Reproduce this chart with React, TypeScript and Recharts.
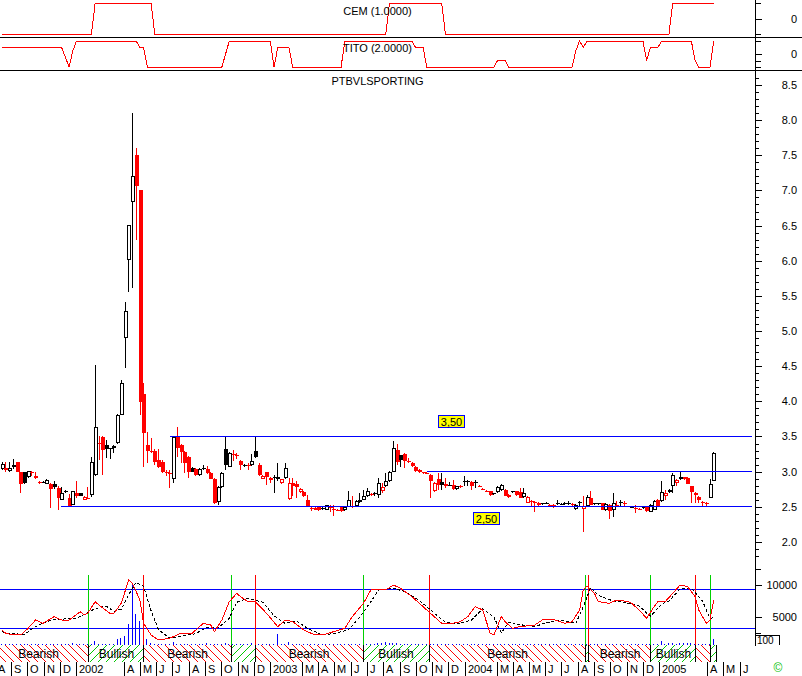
import React from 'react';
import {
  ComposedChart, LineChart, Line, Bar, XAxis, YAxis,
  ReferenceLine, ReferenceArea, ReferenceDot,
} from 'recharts';

// weekly bars; x axis is in days counted from 1 Jan 2002
const FIRST_BAR_DAY = -139;
const X_DOMAIN: [number, number] = [-142.8, 1275.6];
const W = 802;
const AXIS_W = 47;

const opens = [
  3.04, 3.05, 3.01, 3.09, 3.14, 2.99, 2.99, 2.92, 2.99, 2.91, 2.85, 2.85,
  2.82, 2.82, 2.82, 2.77, 2.60, 2.71, 2.63, 2.53, 2.70, 2.69, 2.60, 2.63,
  2.67, 2.95, 3.41, 3.49, 3.38, 3.32, 3.34, 3.41, 3.81, 4.90, 6.01, 6.84,
  7.50, 7.00, 4.11, 3.38, 3.30, 3.29, 3.17, 3.14, 2.99, 2.98, 2.90, 3.49,
  3.38, 3.28, 3.21, 3.05, 3.04, 2.95, 3.04, 3.04, 2.98, 2.90, 2.57, 2.78,
  3.32, 3.07, 3.25, 3.23, 3.15, 3.09, 3.10, 3.09, 3.30, 3.10, 2.90, 3.00,
  2.88, 2.91, 2.89, 2.84, 2.91, 2.61, 2.84, 2.83, 2.71, 2.71, 2.60, 2.48,
  2.48, 2.49, 2.47, 2.46, 2.49, 2.47, 2.46, 2.49, 2.45, 2.50, 2.50, 2.51,
  2.57, 2.60, 2.65, 2.68, 2.70, 2.67, 2.73, 2.79, 2.86, 3.00, 3.31, 3.23,
  3.25, 3.15, 3.12, 3.07, 3.03, 2.99, 2.98, 2.95, 2.72, 2.89, 2.85, 2.83,
  2.81, 2.81, 2.75, 2.80, 2.85, 2.86, 2.85, 2.84, 2.80, 2.76, 2.73, 2.72,
  2.68, 2.71, 2.74, 2.74, 2.67, 2.71, 2.72, 2.71, 2.64, 2.56, 2.58, 2.57,
  2.56, 2.54, 2.55, 2.53, 2.53, 2.55, 2.53, 2.56, 2.55, 2.54, 2.47, 2.55,
  2.47, 2.51, 2.63, 2.55, 2.55, 2.55, 2.45, 2.53, 2.46, 2.53, 2.57, 2.55,
  2.51, 2.50, 2.48, 2.47, 2.48, 2.49, 2.43, 2.46, 2.60, 2.58, 2.65, 2.71,
  2.79, 2.84, 2.89, 2.92, 2.91, 2.79, 2.70, 2.64, 2.57, 2.56, 2.63, 2.87,
];
const highs = [
  3.13, 3.14, 3.14, 3.18, 3.14, 3.00, 3.00, 3.01, 3.01, 3.00, 2.86, 2.87,
  2.89, 2.84, 2.86, 2.80, 2.78, 2.74, 2.68, 2.73, 2.87, 2.70, 2.66, 2.78,
  3.21, 4.52, 3.50, 3.50, 3.45, 3.34, 3.38, 3.82, 4.30, 5.41, 6.51, 8.10,
  7.60, 7.00, 4.26, 3.56, 3.48, 3.32, 3.32, 3.16, 3.03, 3.03, 3.50, 3.64,
  3.40, 3.30, 3.22, 3.06, 3.05, 3.05, 3.09, 3.08, 2.99, 2.91, 2.80, 2.99,
  3.50, 3.28, 3.31, 3.27, 3.16, 3.11, 3.12, 3.25, 3.50, 3.12, 2.95, 3.00,
  2.93, 2.95, 3.12, 2.90, 3.12, 2.91, 2.91, 2.86, 2.77, 2.72, 2.67, 2.50,
  2.50, 2.50, 2.49, 2.53, 2.53, 2.52, 2.47, 2.50, 2.51, 2.72, 2.65, 2.59,
  2.70, 2.74, 2.77, 2.69, 2.71, 2.91, 2.84, 2.98, 3.01, 3.44, 3.40, 3.24,
  3.26, 3.19, 3.13, 3.08, 3.04, 3.00, 2.99, 2.96, 2.85, 2.98, 2.98, 2.91,
  2.85, 2.88, 2.80, 2.81, 2.94, 2.88, 2.86, 2.88, 2.81, 2.77, 2.74, 2.73,
  2.70, 2.79, 2.82, 2.75, 2.68, 2.73, 2.73, 2.77, 2.77, 2.65, 2.60, 2.58,
  2.57, 2.56, 2.57, 2.54, 2.54, 2.59, 2.56, 2.57, 2.58, 2.55, 2.54, 2.58,
  2.65, 2.67, 2.73, 2.56, 2.56, 2.56, 2.55, 2.54, 2.69, 2.58, 2.59, 2.58,
  2.51, 2.51, 2.52, 2.48, 2.50, 2.50, 2.54, 2.59, 2.61, 2.86, 2.74, 2.75,
  2.98, 2.89, 3.00, 2.93, 2.92, 2.80, 2.71, 2.65, 2.58, 2.57, 2.89, 3.28,
];
const lows = [
  3.03, 3.00, 3.00, 3.04, 2.99, 2.70, 2.83, 2.91, 2.94, 2.89, 2.82, 2.84,
  2.82, 2.48, 2.76, 2.45, 2.59, 2.70, 2.50, 2.52, 2.63, 2.65, 2.59, 2.61,
  2.64, 2.94, 3.17, 2.95, 3.19, 3.18, 3.26, 3.40, 3.80, 4.47, 5.56, 5.61,
  6.30, 3.81, 3.07, 3.12, 3.26, 3.09, 3.05, 2.98, 2.94, 2.77, 2.84, 3.21,
  3.12, 2.98, 2.91, 2.99, 2.94, 2.94, 3.02, 2.97, 2.89, 2.54, 2.52, 2.77,
  3.03, 3.06, 3.15, 3.18, 3.02, 3.06, 3.03, 3.08, 3.19, 2.94, 2.89, 2.81,
  2.84, 2.70, 2.86, 2.83, 2.90, 2.60, 2.65, 2.63, 2.70, 2.64, 2.49, 2.44,
  2.45, 2.44, 2.46, 2.45, 2.42, 2.37, 2.44, 2.43, 2.44, 2.49, 2.48, 2.50,
  2.56, 2.59, 2.64, 2.66, 2.66, 2.63, 2.70, 2.78, 2.85, 2.99, 3.09, 3.07,
  3.05, 3.12, 3.07, 3.00, 2.98, 2.97, 2.96, 2.63, 2.71, 2.74, 2.74, 2.77,
  2.79, 2.74, 2.74, 2.77, 2.79, 2.79, 2.74, 2.77, 2.78, 2.74, 2.71, 2.66,
  2.67, 2.70, 2.73, 2.65, 2.63, 2.70, 2.66, 2.62, 2.63, 2.55, 2.51, 2.42,
  2.51, 2.53, 2.54, 2.49, 2.48, 2.53, 2.52, 2.52, 2.53, 2.50, 2.46, 2.51,
  2.14, 2.50, 2.52, 2.53, 2.53, 2.45, 2.44, 2.33, 2.35, 2.49, 2.51, 2.51,
  2.49, 2.49, 2.41, 2.45, 2.47, 2.43, 2.42, 2.45, 2.50, 2.57, 2.60, 2.70,
  2.70, 2.80, 2.88, 2.88, 2.82, 2.55, 2.56, 2.55, 2.51, 2.51, 2.62, 2.86,
];
const closes = [
  3.11, 3.03, 3.05, 3.06, 2.99, 2.82, 2.84, 3.01, 2.98, 2.94, 2.84, 2.85,
  2.88, 2.75, 2.78, 2.63, 2.70, 2.72, 2.51, 2.72, 2.65, 2.66, 2.64, 2.62,
  3.14, 3.64, 3.40, 3.31, 3.32, 3.33, 3.37, 3.81, 4.26, 5.29, 6.51, 7.21,
  7.06, 3.99, 3.55, 3.29, 3.28, 3.14, 3.07, 2.99, 2.98, 2.97, 3.49, 3.34,
  3.28, 3.12, 2.99, 3.00, 2.95, 3.04, 3.05, 2.98, 2.90, 2.55, 2.78, 2.98,
  3.09, 3.27, 3.24, 3.22, 3.09, 3.10, 3.09, 3.15, 3.21, 2.95, 2.94, 2.92,
  2.91, 2.92, 2.93, 2.89, 3.05, 2.84, 2.79, 2.78, 2.75, 2.65, 2.50, 2.47,
  2.46, 2.45, 2.48, 2.52, 2.48, 2.46, 2.45, 2.44, 2.50, 2.60, 2.51, 2.58,
  2.60, 2.65, 2.72, 2.67, 2.68, 2.84, 2.78, 2.86, 3.00, 3.33, 3.14, 3.16,
  3.15, 3.14, 3.08, 3.01, 2.99, 2.98, 2.97, 2.86, 2.84, 2.81, 2.81, 2.80,
  2.80, 2.75, 2.79, 2.78, 2.86, 2.87, 2.79, 2.85, 2.79, 2.75, 2.72, 2.67,
  2.69, 2.78, 2.81, 2.66, 2.64, 2.72, 2.67, 2.63, 2.70, 2.64, 2.57, 2.56,
  2.52, 2.55, 2.56, 2.50, 2.49, 2.54, 2.54, 2.55, 2.56, 2.53, 2.53, 2.57,
  2.51, 2.64, 2.53, 2.54, 2.54, 2.46, 2.54, 2.44, 2.56, 2.52, 2.56, 2.54,
  2.50, 2.50, 2.47, 2.46, 2.49, 2.44, 2.53, 2.58, 2.51, 2.71, 2.69, 2.74,
  2.95, 2.88, 2.92, 2.89, 2.83, 2.71, 2.67, 2.60, 2.56, 2.55, 2.82, 3.27,
];
const volumes = [
  1, 1, 1, 1, 1, 1, 1, 1, 1, 1,
  1, 1, 1, 1, 1, 1, 1, 1, 1, 2,
  1, 1, 1, 1, 1, 4, 1, 1, 1, 1,
  1, 6, 7, 9, 21, 61, 31, 24, 25, 6,
  2, 1, 1, 1, 1, 1, 3, 1, 1, 1,
  1, 1, 1, 1, 1, 2, 1, 1, 1, 1,
  2, 1, 1, 1, 1, 1, 1, 2, 3, 1,
  1, 1, 1, 1, 11, 1, 1, 3, 1, 1,
  1, 1, 1, 1, 1, 1, 1, 1, 1, 1,
  1, 1, 1, 1, 1, 1, 1, 1, 1, 1,
  1, 2, 2, 3, 2, 2, 2, 1, 1, 1,
  1, 1, 1, 1, 1, 1, 1, 1, 1, 1,
  1, 1, 1, 1, 1, 1, 1, 1, 1, 1,
  1, 1, 1, 1, 1, 1, 1, 1, 1, 1,
  1, 1, 1, 1, 1, 1, 1, 1, 1, 1,
  1, 1, 1, 1, 1, 1, 1, 1, 1, 1,
  1, 1, 1, 1, 1, 1, 1, 1, 1, 1,
  1, 1, 1, 1, 1, 1, 1, 4, 1, 2,
  2, 1, 2, 2, 2, 2, 1, 1, 1, 1,
  1, 6,
];

// [bar index, value]
const cemPoints: [number, number][] = [
  [0, -1], [24, -1], [25, 1], [40, 1], [41, -1], [103, -1], [104, 1],
  [118, 1], [119, -1], [179, -1], [180, 1], [191, 1],
];
const titoPoints: [number, number][] = [
  [0, 1], [16, 1], [18, -2], [19, 0.5], [20, 2], [36, 2], [37, 1], [38, 1], [39, -2],
  [59, -2], [60, 0], [61, 2], [72, 2], [73, -2], [74, 1], [77, 1], [78, -2],
  [91, -2], [92, 2], [110, 2], [111, 1], [113, 1], [114, -2], [132, -2], [133, -1],
  [135, -1], [136, -2], [153, -2], [154, 0.5], [155, 2], [156, 1], [157, 2],
  [172, 2], [173, -1], [174, 1], [176, 1], [177, 2], [185, 2], [186, -1], [187, -2],
  [190, -2], [191, 2],
];
const oscPoints: [number, number][] = [
  [0, 2970], [1, 2450], [3, 2190], [5, 2190], [7, 3230], [9, 4530], [11, 4010],
  [14, 5050], [16, 4530], [18, 4530], [21, 5830], [22, 5310], [23, 5570], [25, 7400],
  [26, 6880], [29, 5570], [30, 5570], [32, 7140], [34, 10780], [35, 10260], [37, 7660],
  [38, 4010], [40, 2190], [42, 1410], [45, 1670], [48, 2450], [51, 2450], [54, 4010],
  [56, 3750], [57, 2710], [59, 4530], [61, 7400], [63, 8700], [64, 8180], [66, 7400],
  [68, 7400], [71, 5570], [74, 3490], [76, 4530], [78, 4270], [81, 2970], [84, 2190],
  [86, 2190], [89, 2710], [92, 3230], [94, 5050], [97, 7140], [99, 9220], [101, 9320],
  [103, 9220], [105, 10000], [107, 9480], [110, 8180], [112, 7140], [115, 5570],
  [118, 4010], [120, 3910], [123, 4270], [125, 5050], [127, 6620], [129, 6090],
  [131, 2450], [132, 2190], [134, 5050], [135, 4270], [137, 3230], [139, 3490],
  [143, 3750], [145, 4530], [148, 4640], [151, 4010], [153, 4270], [155, 6090],
  [156, 9220], [157, 9840], [159, 8700], [160, 7400], [163, 7140], [165, 7660],
  [168, 7400], [169, 7140], [171, 6090], [173, 4790], [175, 6620], [176, 7400],
  [178, 7400], [180, 8700], [182, 10000], [184, 9740], [186, 8180], [187, 6090],
  [189, 4010], [190, 4530], [191, 7660],
];
const signalPoints: [number, number][] = [
  [0, 2700], [2, 2400], [6, 2300], [9, 3500], [12, 4300], [14, 4600], [17, 4700],
  [20, 4800], [22, 5400], [25, 6300], [28, 6700], [30, 5900], [32, 6200], [34, 8500],
  [36, 10400], [38, 9800], [40, 6000], [42, 3000], [45, 1700], [48, 2000], [52, 2400],
  [55, 3400], [58, 3300], [61, 4800], [63, 7300], [66, 7900], [70, 7300], [73, 5200],
  [76, 4000], [79, 4400], [82, 3200], [86, 2200], [89, 2400], [93, 3000], [96, 5000],
  [99, 7400], [101, 9200], [105, 9500], [108, 9000], [112, 7600], [116, 5600],
  [119, 4200], [122, 3900], [126, 4500], [129, 6300], [132, 5000], [134, 2500],
  [136, 4200], [139, 3800], [143, 3500], [146, 4100], [150, 4500], [154, 4000],
  [156, 6600], [158, 9600], [160, 8400], [164, 7500], [167, 7300], [171, 6700],
  [174, 5100], [177, 7000], [179, 7500], [182, 9400], [185, 9500], [188, 7500],
  [190, 4800], [191, 4900],
];

// trend phases (days)
const phaseStarts = [-165, 24.4, 127.7, 291.2, 336.3, 539.2, 663.2, 958.1, 963.7, 1080.2, 1164.7, 1192.9];
const phaseEnds = [24.4, 127.7, 291.2, 336.3, 539.2, 663.2, 958.1, 963.7, 1080.2, 1164.7, 1192.9, 1204.2];
const phaseNames = ['Bearish', 'Bullish', 'Bearish', 'Bullish', 'Bearish', 'Bullish', 'Bearish', 'Bullish', 'Bearish', 'Bullish', 'Bearish', 'Bullish'];
const phaseLabelled = [true, true, true, false, true, true, true, false, true, true, false, false];

const monthTicks = [
  -153, -122, -92, -61, -31, 0, 90, 120, 151, 181, 212, 243, 273, 304, 334,
  365, 424, 455, 485, 516, 546, 577, 608, 638, 669, 699,
  730, 790, 821, 851, 882, 912, 943, 974, 1004, 1035, 1065,
  1096, 1186, 1216, 1247,
];
const monthLabels = [
  'A', 'S', 'O', 'N', 'D', '2002', 'A', 'M', 'J', 'J', 'A', 'S', 'O', 'N', 'D',
  '2003', 'M', 'A', 'M', 'J', 'J', 'A', 'S', 'O', 'N', 'D',
  '2004', 'M', 'A', 'M', 'J', 'J', 'A', 'S', 'O', 'N', 'D',
  '2005', 'A', 'M', 'J',
];

const priceLabels = [2.0, 2.5, 3.0, 3.5, 4.0, 4.5, 5.0, 5.5, 6.0, 6.5, 7.0, 7.5, 8.0, 8.5];
const oscLabels = [5000, 10000];

const PRICE_DOMAIN: [number, number] = [1.743, 8.699];
const CEM_DOMAIN: [number, number] = [-1.258, 1.194];
const TITO_DOMAIN: [number, number] = [-2.615, 2.462];
// oscillator panel also carries the trend band below its zero volume line
const OSC_DOMAIN: [number, number] = [-2031, 13906];
const VOL_DOMAIN: [number, number] = [-17, 85];
const BAND_TOP = 625;
const BAND_BOTTOM = -2031;

const barDay = (k: number) => FIRST_BAR_DAY + 7 * k;
const toRows = (pts: [number, number][]) => pts.map(([k, v]) => ({ d: barDay(k), v }));

const candles = opens.map((o, k) => ({
  d: barDay(k),
  o,
  h: highs[k],
  l: lows[k],
  c: closes[k],
  range: [lows[k], highs[k]],
  down: k > 0 && closes[k] < closes[k - 1],
}));
const volRows = volumes.map((vol, k) => ({ d: barDay(k), vol }));

const minorTicks: number[] = [];
for (let i = 18; i <= 86; i++) minorTicks.push(i / 10);

const Candle = (props: any) => {
  const { x, y, width, height, payload } = props;
  if (x == null || y == null || !payload) return null;
  const { o, h, l, c, down } = payload;
  const top = Math.min(y, y + height);
  const bottom = Math.max(y, y + height);
  const span = h - l || 1;
  const toY = (p: number) => top + ((h - p) / span) * (bottom - top);
  const cx = Math.round(x + width / 2) + 0.5;
  const bTop = Math.round(toY(Math.max(o, c)));
  const bBot = Math.round(toY(Math.min(o, c)));
  const color = down ? '#ff0000' : '#000000';
  const filled = c < o;
  if (bBot - bTop < 2) {
    return (
      <g>
        <line x1={cx} x2={cx} y1={top} y2={bottom} stroke={color} />
        <line x1={cx - 2} x2={cx + 2} y1={bTop + 0.5} y2={bTop + 0.5} stroke={color} />
      </g>
    );
  }
  return (
    <g>
      <line x1={cx} x2={cx} y1={top} y2={bTop} stroke={color} />
      <line x1={cx} x2={cx} y1={bBot} y2={bottom} stroke={color} />
      <rect x={cx - 1.5} y={bTop + 0.5} width={3} height={bBot - bTop - 1}
        fill={filled ? color : '#ffffff'} stroke={color} />
    </g>
  );
};

const makeTick = (labels: number[], fmt: (v: number) => string, minorLen = 4) => (props: any) => {
  const { x, y, payload } = props;
  const v = payload.value;
  const major = labels.some((m) => Math.abs(m - v) < 1e-6);
  const yy = Math.round(y) + 0.5;
  return (
    <g>
      <line x1={x} x2={x + (major ? 7 : minorLen)} y1={yy} y2={yy} stroke="#000" />
      {major && (
        <text x={x + 42} y={y + 4} textAnchor="end" fontSize={11} fill="#000">{fmt(v)}</text>
      )}
    </g>
  );
};

const priceTick = makeTick(priceLabels, (v) => v.toFixed(1));
const zeroTick = makeTick([0], () => '0', 6);
const oscTick = makeTick(oscLabels, (v) => String(v), 6);

const MonthTick = (props: any) => {
  const { x, y, payload } = props;
  const i = monthTicks.indexOf(payload.value);
  const xx = Math.round(x) + 0.5;
  return (
    <g>
      <line x1={xx} x2={xx} y1={y} y2={y + 14} stroke="#000" />
      <text x={xx + 2.5} y={y + 11} fontSize={11} fill="#000">{monthLabels[i]}</text>
    </g>
  );
};

const LevelBox = (props: any) => {
  const { cx, cy, text, dy } = props;
  if (cx == null || cy == null) return null;
  const bx = Math.round(cx - 13) + 0.5;
  const by = Math.round(cy + dy - 6) + 0.5;
  return (
    <g>
      <rect x={bx} y={by} width={26} height={12} fill="#ffff00" stroke="#0000ff" />
      <text x={bx + 13} y={by + 10} textAnchor="middle" fontSize={11} fill="#000">{text}</text>
    </g>
  );
};

const margin = { top: 0, right: 0, bottom: 0, left: 0 };
const hiddenX = (
  <XAxis type="number" dataKey="d" domain={X_DOMAIN} allowDataOverflow hide />
);

const rightAxis = (domain: [number, number], ticks: number[], tick: any, id: string | number = 0) => (
  <YAxis yAxisId={id} orientation="right" width={AXIS_W} type="number" domain={domain}
    allowDataOverflow ticks={ticks} interval={0} tickSize={0} tickMargin={0}
    tickLine={false} axisLine={{ stroke: '#000' }} tick={tick} />
);

export default function App() {
  return (
    <div style={{
      position: 'absolute', left: 0, top: 0, width: W, height: 676, background: '#fff',
      overflow: 'hidden', fontFamily: '"Liberation Sans", Arial, sans-serif',
    }}>
      <style>{'.cw line, .cw path, .cw rect { shape-rendering: crispEdges; }'}</style>
      <svg width={0} height={0} style={{ position: 'absolute' }}>
        <defs>
          <pattern id="hatchBear" patternUnits="userSpaceOnUse" width={8} height={8}>
            <rect width={8} height={8} fill="#fff" />
            <path d="M0,0 L8,8 M-1,7 L1,9 M7,-1 L9,1" stroke="#ff0000" strokeWidth={1} />
          </pattern>
          <pattern id="hatchBull" patternUnits="userSpaceOnUse" width={8} height={8}>
            <rect width={8} height={8} fill="#fff" />
            <path d="M0,8 L8,0 M-1,1 L1,-1 M7,9 L9,7" stroke="#00c800" strokeWidth={1} />
          </pattern>
        </defs>
      </svg>

      <div className="cw" style={{ position: 'absolute', left: 0, top: 0 }}>
        <LineChart width={W} height={38} margin={margin}>
          {hiddenX}
          {rightAxis(CEM_DOMAIN, [-1, 0, 1], zeroTick)}
          <Line data={toRows(cemPoints)} dataKey="v" stroke="#ff0000" strokeWidth={1}
            dot={false} activeDot={false} isAnimationActive={false} />
        </LineChart>
      </div>

      <div className="cw" style={{ position: 'absolute', left: 0, top: 38 }}>
        <LineChart width={W} height={33} margin={margin}>
          {hiddenX}
          {rightAxis(TITO_DOMAIN, [-2, -1, 0, 2], zeroTick)}
          <Line data={toRows(titoPoints)} dataKey="v" stroke="#ff0000" strokeWidth={1}
            dot={false} activeDot={false} isAnimationActive={false} />
        </LineChart>
      </div>

      <div className="cw" style={{ position: 'absolute', left: 0, top: 71 }}>
        <ComposedChart width={W} height={489} margin={margin} data={candles}>
          {hiddenX}
          {rightAxis(PRICE_DOMAIN, minorTicks, priceTick)}
          <ReferenceLine segment={[{ x: 177, y: 3.5 }, { x: 1270, y: 3.5 }]} stroke="#0000ff" />
          <ReferenceLine segment={[{ x: 659, y: 3.0 }, { x: 1270, y: 3.0 }]} stroke="#0000ff" />
          <ReferenceLine segment={[{ x: -28, y: 2.5 }, { x: 1270, y: 2.5 }]} stroke="#0000ff" />
          <Bar dataKey="range" barSize={3} shape={Candle} isAnimationActive={false} />
          <ReferenceDot x={704.5} y={3.5} r={0}
            shape={(p: any) => <LevelBox {...p} text="3,50" dy={-15} />} />
          <ReferenceDot x={770.8} y={2.5} r={0}
            shape={(p: any) => <LevelBox {...p} text="2,50" dy={11} />} />
        </ComposedChart>
      </div>

      <div className="cw" style={{ position: 'absolute', left: 0, top: 560 }}>
        <ComposedChart width={W} height={116} margin={margin} data={volRows}>
          <XAxis type="number" dataKey="d" domain={X_DOMAIN} allowDataOverflow ticks={monthTicks}
            interval={0} height={14} tickSize={0} tickMargin={0} tickLine={false} axisLine={false}
            tick={MonthTick} />
          {rightAxis(OSC_DOMAIN, [2500, 5000, 10000, 12500], oscTick, 'osc')}
          <YAxis yAxisId="vol" hide domain={VOL_DOMAIN} type="number" allowDataOverflow />
          {phaseStarts.map((d, i) => (
            <ReferenceArea key={`a${d}`} yAxisId="osc" x1={d} x2={phaseEnds[i]}
              y1={BAND_BOTTOM} y2={BAND_TOP} ifOverflow="visible"
              fill={phaseNames[i] === 'Bullish' ? 'url(#hatchBull)' : 'url(#hatchBear)'}
              fillOpacity={1} stroke="none"
              label={phaseLabelled[i] ? { value: phaseNames[i], position: 'center', fontSize: 12, fill: '#000' } : undefined} />
          ))}
          {phaseEnds.map((d) => (
            <ReferenceLine key={`e${d}`} yAxisId="osc"
              segment={[{ x: d, y: BAND_TOP }, { x: d, y: BAND_BOTTOM }]} stroke="#000" />
          ))}
          <ReferenceLine yAxisId="osc" y={9220} stroke="#0000ff" />
          <ReferenceLine yAxisId="osc" y={3280} stroke="#0000ff" />
          {phaseStarts.slice(1).map((d, i) => (
            <ReferenceLine key={`s${d}`} yAxisId="osc"
              segment={[{ x: d, y: 11560 }, { x: d, y: BAND_TOP }]}
              stroke={phaseNames[i + 1] === 'Bullish' ? '#00d000' : '#ff0000'} />
          ))}
          <Bar yAxisId="vol" dataKey="vol" barSize={1} fill="#0000ff" isAnimationActive={false} />
          <Line yAxisId="osc" data={toRows(signalPoints)} dataKey="v" stroke="#000000"
            strokeDasharray="3 2" dot={false} activeDot={false} isAnimationActive={false} />
          <Line yAxisId="osc" data={toRows(oscPoints)} dataKey="v" stroke="#ff0000"
            dot={false} activeDot={false} isAnimationActive={false} />
        </ComposedChart>
      </div>

      <svg width={W} height={676} style={{ position: 'absolute', left: 0, top: 0, pointerEvents: 'none' }}>
        <line x1={0} x2={W} y1={37.5} y2={37.5} stroke="#000" />
        <line x1={0} x2={W} y1={70.5} y2={70.5} stroke="#000" />
        <text x={377.5} y={14.5} textAnchor="middle" fontSize={11} fill="#000">CEM (1.0000)</text>
        <text x={377.5} y={51.5} textAnchor="middle" fontSize={11} fill="#000">TITO (2.0000)</text>
        <text x={377.5} y={85} textAnchor="middle" fontSize={11} fill="#000">PTBVLSPORTING</text>
        <rect x={755} y={646} width={47} height={16} fill="#fff" />
        <path d="M755.5,645 V635.5 H779.5 V645" fill="#fff" stroke="#000" shapeRendering="crispEdges" />
        <text x={757} y={644} fontSize={10} fill="#000">100</text>
        <text x={778} y={672} textAnchor="middle" fontSize={12} fill="#00c000">©</text>
      </svg>
    </div>
  );
}
